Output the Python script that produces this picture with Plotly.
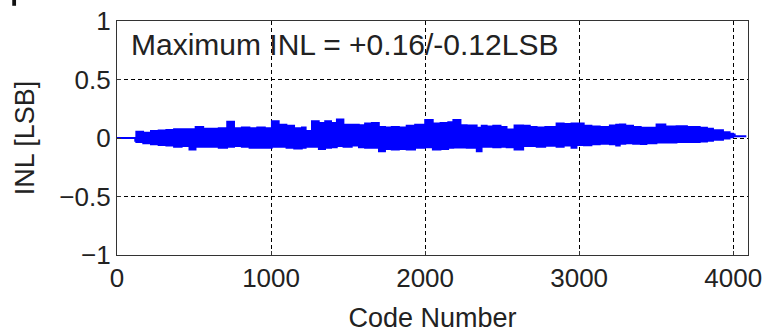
import plotly.graph_objects as go

codes = [0, 118, 125, 170, 220, 270, 320, 370, 420, 470, 510, 560, 610, 660, 715, 760,
         810, 860, 910, 960, 1005, 1050, 1100, 1150, 1200, 1225, 1265, 1310, 1351, 1390,
         1427, 1470, 1524, 1570, 1610, 1654, 1700, 1740, 1783, 1830, 1880, 1935, 2000,
         2050, 2100, 2150, 2183, 2230, 2270, 2335, 2367, 2400, 2442, 2490, 2529, 2580,
         2637, 2680, 2724, 2780, 2853, 2900, 2950, 2983, 3030, 3080, 3134, 3199, 3240,
         3264, 3300, 3350, 3400, 3437, 3502, 3560, 3632, 3700, 3783, 3830, 3869, 3934,
         3977, 4000, 4010, 4085]

# Upper envelope of the INL trace [LSB]
inl_upper = [0.0, 0.0, 0.055, 0.045, 0.06, 0.065, 0.07, 0.075, 0.075, 0.075, 0.095, 0.08,
             0.08, 0.085, 0.14, 0.085, 0.09, 0.085, 0.09, 0.085, 0.145, 0.115, 0.105, 0.085,
             0.09, 0.06, 0.145, 0.13, 0.145, 0.13, 0.16, 0.115, 0.115, 0.11, 0.125, 0.13,
             0.095, 0.09, 0.095, 0.09, 0.105, 0.115, 0.155, 0.125, 0.13, 0.135, 0.155,
             0.11, 0.108, 0.088, 0.105, 0.1, 0.105, 0.095, 0.074, 0.108, 0.105, 0.095,
             0.09, 0.095, 0.125, 0.12, 0.125, 0.125, 0.105, 0.1, 0.095, 0.108, 0.115,
             0.117, 0.105, 0.095, 0.088, 0.088, 0.117, 0.1, 0.102, 0.095, 0.088, 0.08,
             0.068, 0.05, 0.038, 0.03, 0.015, 0.015]

# Lower envelope of the INL trace [LSB]
inl_lower = [0.0, 0.0, -0.025, -0.035, -0.045, -0.055, -0.06, -0.065, -0.075, -0.07,
             -0.1, -0.075, -0.075, -0.075, -0.085, -0.075, -0.07, -0.075, -0.085, -0.085,
             -0.085, -0.075, -0.075, -0.085, -0.09, -0.085, -0.075, -0.075, -0.095, -0.085,
             -0.08, -0.07, -0.075, -0.065, -0.08, -0.085, -0.085, -0.115, -0.095, -0.1,
             -0.095, -0.1, -0.085, -0.08, -0.1, -0.095, -0.085, -0.082, -0.082, -0.085,
             -0.115, -0.075, -0.075, -0.08, -0.075, -0.08, -0.1, -0.07, -0.07, -0.075,
             -0.068, -0.075, -0.065, -0.085, -0.06, -0.063, -0.055, -0.05, -0.055, -0.065,
             -0.05, -0.045, -0.05, -0.053, -0.045, -0.04, -0.04, -0.035, -0.035, -0.03,
             -0.025, -0.016, -0.005, 0.005, 0.015, 0.015]

x_tick_vals = [0, 1000, 2000, 3000, 4000]
x_tick_labels = ["0", "1000", "2000", "3000", "4000"]
y_tick_vals = [-1, -0.5, 0, 0.5, 1]
y_tick_labels = ["\u22121", "\u22120.5", "0", "0.5", "1"]

annotation_text = "Maximum INL = +0.16/-0.12LSB"

poly_x = codes + codes[::-1]
poly_y = inl_upper + inl_lower[::-1]

FONT = "Liberation Sans, Arial, sans-serif"

fig = go.Figure()
fig.add_trace(go.Scatter(
    x=poly_x, y=poly_y, mode="lines", fill="toself",
    fillcolor="#0000ff", line=dict(color="#0000ff", width=1.8, shape="hv"),
    hoverinfo="skip", showlegend=False,
))

axis_common = dict(
    showline=True, mirror=True, linecolor="#333333", linewidth=1.3,
    showgrid=True, gridcolor="#000000", gridwidth=1, griddash="4px,3px",
    zeroline=False, ticks="inside", ticklen=4, tickcolor="#333333",
    tickfont=dict(family=FONT, size=26, color="#222222"),
    automargin=False,
)

fig.update_xaxes(
    range=[0, 4096], tickmode="array", tickvals=x_tick_vals, ticktext=x_tick_labels,
    title=dict(text="Code Number", font=dict(family=FONT, size=27, color="#222222"),
               standoff=22),
    **axis_common,
)
fig.update_yaxes(
    range=[-1, 1], tickmode="array", tickvals=y_tick_vals, ticktext=y_tick_labels,
    title=dict(text="INL [LSB]", font=dict(family=FONT, size=27, color="#222222"),
               standoff=16),
    **axis_common,
)

fig.add_annotation(
    x=75, y=0.80, xref="x", yref="y", text=annotation_text, showarrow=False,
    xanchor="left", yanchor="middle",
    font=dict(family=FONT, size=30, color="#222222"),
)

# small dark mark at the top-left corner of the reference image
fig.add_shape(type="rect", xref="paper", yref="paper",
              x0=-0.166, x1=-0.16, y0=1.065, y1=1.095,
              fillcolor="#111111", line=dict(width=0))

fig.update_layout(
    width=764, height=333,
    margin=dict(l=117, r=16, t=21, b=78),
    paper_bgcolor="white", plot_bgcolor="white",
    showlegend=False,
)

fig.write_html(
    "out.html",
    config={"displayModeBar": False},
    post_script="document.body.style.margin='0';document.body.style.overflow='hidden';",
)
